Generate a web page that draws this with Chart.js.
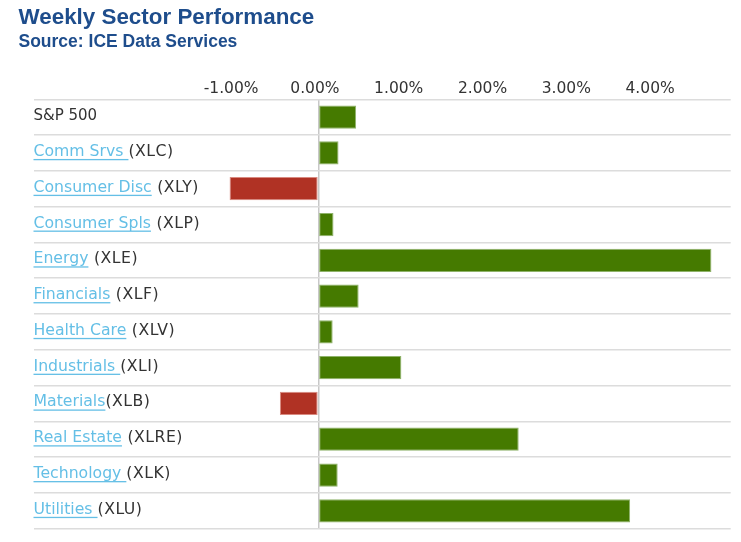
<!DOCTYPE html>
<html><head><meta charset="utf-8">
<script src="https://cdn.jsdelivr.net/npm/chart.js@4/dist/chart.umd.min.js"></script>
<style>html,body{margin:0;padding:0;background:#fff;} #wrap{width:741px;height:542px;position:relative;}</style>
</head><body><div id="wrap"><canvas id="c"></canvas></div>
<script>
const sectorNames = ["S&P 500", "Comm Srvs ", "Consumer Disc", "Consumer Spls", "Energy", "Financials", "Health Care", "Industrials ", "Materials", "Real Estate", "Technology ", "Utilities "];
const tickers = ["", "(XLC)", " (XLY)", " (XLP)", " (XLE)", " (XLF)", " (XLV)", "(XLI)", "(XLB)", " (XLRE)", "(XLK)", "(XLU)"];
const isLink = [false, true, true, true, true, true, true, true, true, true, true, true];
const weeklyChange = [0.45, 0.24, -1.06, 0.18, 4.69, 0.48, 0.17, 0.99, -0.46, 2.39, 0.23, 3.72];
const tickValues = [-1, 0, 1, 2, 3, 4];

const linkColor = '#64bfe6';
const textColor = '#333333';
const labels = sectorNames.map((n, i) => n + tickers[i]);

const labelPlugin = {
  id: 'sectorLabels',
  afterDraw(chart) {
    const ctx = chart.ctx;
    const ys = chart.scales.y;
    const left = chart.chartArea.left;
    ctx.save();
    ctx.textBaseline = 'alphabetic';
    ctx.textAlign = 'left';
    sectorNames.forEach((name, i) => {
      const y = ys.getPixelForValue(i) + 3;
      const x = left;
      ctx.font = (isLink[i] ? '15.7px' : '15px') + ' "DejaVu Sans"';
      ctx.letterSpacing = '0px';
      ctx.fillStyle = isLink[i] ? linkColor : textColor;
      ctx.fillText(name, x, y);
      const w = ctx.measureText(name).width;
      if (isLink[i]) ctx.fillRect(x, y + 3, w, 1.3);
      ctx.fillStyle = textColor;
      ctx.letterSpacing = '0.5px';
      ctx.fillText(tickers[i], x + w, y);
    });
    ctx.restore();
  }
};

new Chart(document.getElementById('c'), {
  type: 'bar',
  data: {
    labels: labels,
    datasets: [{
      data: weeklyChange,
      backgroundColor: weeklyChange.map(v => v >= 0 ? '#457a00' : '#b03224'),
      borderColor: weeklyChange.map(v => v >= 0 ? '#8fb36a' : '#d98a80'),
      borderWidth: 1,
      borderSkipped: false,
      barPercentage: 0.65,
      categoryPercentage: 1.0
    }]
  },
  options: {
    indexAxis: 'y',
    responsive: true,
    maintainAspectRatio: false,
    animation: false,
    layout: { padding: { left: 18.5, right: 10.3, top: 0, bottom: 13.3 } },
    plugins: {
      legend: { display: false },
      tooltip: { enabled: false },
      title: {
        display: true, text: 'Weekly Sector Performance', align: 'start', color: '#1e4d8c',
        font: { family: '"Liberation Sans", Arial, sans-serif', size: 22.4, weight: 'bold', lineHeight: 1.2 },
        padding: { top: 4, bottom: 1 }
      },
      subtitle: {
        display: true, text: 'Source: ICE Data Services', align: 'start', color: '#1e4d8c',
        font: { family: '"Liberation Sans", Arial, sans-serif', size: 17.5, weight: 'bold', lineHeight: 1.2 },
        padding: { top: 0, bottom: 0 }
      }
    },
    scales: {
      x: {
        position: 'top',
        min: -3.4, max: 4.92,
        afterFit: s => { s.height = 46.4; },
        border: { display: false },
        grid: {
          drawTicks: false,
          lineWidth: 1.5,
          color: c => (c.tick && Math.abs(c.tick.value) < 1e-9) ? '#c8c8c8' : 'rgba(0,0,0,0)'
        },
        ticks: {
          stepSize: 1, autoSkip: false, maxRotation: 0, padding: 1, labelOffset: -3.5,
          color: textColor,
          font: { family: '"DejaVu Sans"', size: 15.5 },
          callback: v => {
            const r = Math.round(v);
            return (Math.abs(v - r) < 1e-6 && tickValues.includes(r)) ? r.toFixed(2) + '%' : '';
          }
        }
      },
      y: {
        position: 'left',
        afterFit: s => { s.width = 15; },
        border: { display: false },
        grid: { offset: true, drawTicks: false, color: '#dcdcdc', lineWidth: 1.5 },
        ticks: { display: false }
      }
    }
  },
  plugins: [labelPlugin]
});
</script></body></html>
